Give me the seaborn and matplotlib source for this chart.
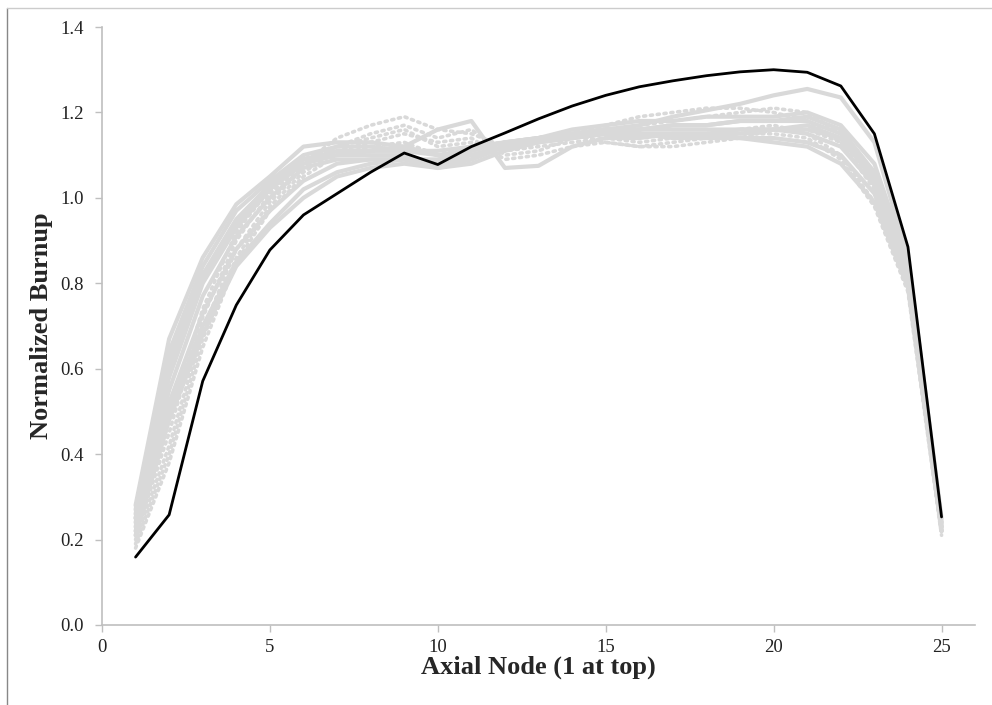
import matplotlib
matplotlib.use("Agg")
import matplotlib.pyplot as plt
from matplotlib.lines import Line2D
import seaborn as sns
import pandas as pd

nodes = list(range(1, 26))

# highlighted (black) assembly
black_run = [0.159, 0.258, 0.571, 0.749, 0.878, 0.960, 1.010, 1.060, 1.105, 1.078, 1.120, 1.152,
             1.185, 1.215, 1.240, 1.260, 1.274, 1.286, 1.295, 1.300, 1.294, 1.262, 1.150, 0.885, 0.253]

# grey solid assemblies
solid_1 = [0.28, 0.67, 0.86, 0.985, 1.05, 1.12, 1.13, 1.13, 1.12, 1.10, 1.10, 1.12, 1.13, 1.14, 1.15, 1.16, 1.17, 1.17, 1.18, 1.18, 1.19, 1.16, 1.06, 0.83, 0.24]
solid_2 = [0.27, 0.64, 0.84, 0.97, 1.04, 1.10, 1.12, 1.12, 1.11, 1.10, 1.11, 1.13, 1.14, 1.15, 1.16, 1.17, 1.19, 1.205, 1.22, 1.24, 1.255, 1.235, 1.13, 0.86, 0.25]
solid_3 = [0.26, 0.62, 0.82, 0.95, 1.03, 1.09, 1.11, 1.11, 1.12, 1.16, 1.18, 1.07, 1.075, 1.12, 1.14, 1.14, 1.15, 1.15, 1.16, 1.16, 1.17, 1.14, 1.05, 0.83, 0.23]
solid_4 = [0.25, 0.58, 0.80, 0.93, 1.02, 1.08, 1.10, 1.10, 1.10, 1.08, 1.09, 1.12, 1.14, 1.16, 1.17, 1.18, 1.18, 1.19, 1.19, 1.19, 1.20, 1.17, 1.08, 0.85, 0.24]
solid_5 = [0.24, 0.55, 0.77, 0.91, 1.00, 1.07, 1.09, 1.09, 1.09, 1.07, 1.08, 1.11, 1.13, 1.15, 1.16, 1.16, 1.17, 1.17, 1.18, 1.18, 1.18, 1.15, 1.06, 0.84, 0.23]
solid_6 = [0.23, 0.52, 0.73, 0.88, 0.97, 1.04, 1.08, 1.09, 1.09, 1.08, 1.10, 1.12, 1.13, 1.14, 1.15, 1.15, 1.15, 1.15, 1.14, 1.14, 1.13, 1.10, 1.01, 0.81, 0.22]
solid_7 = [0.22, 0.50, 0.70, 0.85, 0.94, 1.02, 1.06, 1.08, 1.09, 1.09, 1.11, 1.13, 1.14, 1.15, 1.15, 1.15, 1.14, 1.14, 1.14, 1.13, 1.12, 1.08, 0.99, 0.79, 0.22]
solid_8 = [0.21, 0.48, 0.68, 0.84, 0.93, 1.00, 1.05, 1.07, 1.08, 1.07, 1.09, 1.12, 1.14, 1.15, 1.16, 1.16, 1.16, 1.16, 1.16, 1.16, 1.15, 1.12, 1.03, 0.81, 0.22]
solid_9 = [0.25, 0.60, 0.81, 0.94, 1.02, 1.09, 1.10, 1.11, 1.11, 1.11, 1.12, 1.13, 1.14, 1.14, 1.15, 1.15, 1.15, 1.15, 1.15, 1.16, 1.16, 1.14, 1.04, 0.82, 0.23]

# grey dotted assemblies
dotted_1 = [0.21, 0.45, 0.72, 0.90, 1.01, 1.08, 1.14, 1.17, 1.19, 1.16, 1.15, 1.12, 1.13, 1.15, 1.17, 1.19, 1.20, 1.21, 1.21, 1.20, 1.18, 1.13, 1.02, 0.80, 0.23]
dotted_2 = [0.20, 0.42, 0.69, 0.88, 0.99, 1.07, 1.12, 1.15, 1.17, 1.14, 1.16, 1.10, 1.11, 1.14, 1.16, 1.17, 1.18, 1.19, 1.20, 1.21, 1.20, 1.15, 1.04, 0.81, 0.22]
dotted_3 = [0.19, 0.40, 0.67, 0.86, 0.98, 1.06, 1.11, 1.13, 1.15, 1.13, 1.14, 1.09, 1.10, 1.12, 1.13, 1.12, 1.12, 1.13, 1.14, 1.16, 1.16, 1.13, 1.03, 0.82, 0.22]
dotted_4 = [0.22, 0.48, 0.74, 0.92, 1.02, 1.09, 1.12, 1.14, 1.16, 1.12, 1.13, 1.11, 1.12, 1.13, 1.14, 1.13, 1.14, 1.15, 1.16, 1.17, 1.15, 1.10, 0.99, 0.79, 0.22]
dotted_5 = [0.18, 0.38, 0.65, 0.85, 0.97, 1.05, 1.10, 1.12, 1.13, 1.10, 1.12, 1.13, 1.14, 1.15, 1.13, 1.12, 1.13, 1.14, 1.15, 1.15, 1.14, 1.09, 0.98, 0.78, 0.21]

solid_runs = [solid_1, solid_2, solid_3, solid_4, solid_5, solid_6, solid_7, solid_8, solid_9]
dotted_runs = [dotted_1, dotted_2, dotted_3, dotted_4, dotted_5]

x_label = "Axial Node (1 at top)"
y_label = "Normalized Burnup"
x_ticks = [0, 5, 10, 15, 20, 25]
y_ticks = [0.0, 0.2, 0.4, 0.6, 0.8, 1.0, 1.2, 1.4]

sns.set_style("white")
plt.rcParams["font.family"] = ["Liberation Serif", "DejaVu Serif"]

fig = plt.figure(figsize=(9.92, 7.05), dpi=100)
ax = fig.add_axes([0.1028, 0.1135, 0.8802, 0.8482])

grey = "#d9d9d9"
for run in dotted_runs:
    sns.lineplot(x=nodes, y=run, ax=ax, color=grey, lw=2.6, linestyle=(0, (0.6, 1.3)),
                 dash_capstyle="round", legend=False)
for run in solid_runs:
    sns.lineplot(x=nodes, y=run, ax=ax, color=grey, lw=3.0, legend=False)
sns.lineplot(x=nodes, y=black_run, ax=ax, color="black", lw=2.0, legend=False)

ax.set_xlim(0, 26)
ax.set_ylim(0, 1.4)
ax.set_xticks(x_ticks)
ax.set_yticks(y_ticks)
ax.set_yticklabels([f"{v:.1f}" for v in y_ticks])
ax.tick_params(axis="both", direction="out", length=5, width=1, color="#bfbfbf",
               labelsize=13.5, labelcolor="#222222", left=True, bottom=True)
ax.tick_params(axis="y", pad=8)
ax.tick_params(axis="x", pad=5)
for s in ["top", "right"]:
    ax.spines[s].set_visible(False)
for s in ["left", "bottom"]:
    ax.spines[s].set_color("#bfbfbf")
    ax.spines[s].set_linewidth(1.2)
ax.set_xlabel(x_label, fontsize=19, fontweight="bold", labelpad=0)
ax.set_ylabel(y_label, fontsize=19, fontweight="bold", labelpad=5)

# outer frame (left and top edges)
fig.add_artist(Line2D([0.007, 0.007], [0.0, 0.989], transform=fig.transFigure, color="#888888", lw=1))
fig.add_artist(Line2D([0.007, 1.0], [0.989, 0.989], transform=fig.transFigure, color="#cccccc", lw=1))

fig.savefig("out.png", dpi=100)
